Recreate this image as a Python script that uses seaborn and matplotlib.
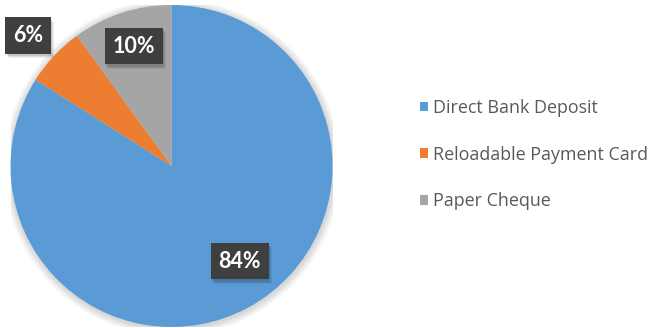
import matplotlib
matplotlib.use("Agg")
import matplotlib.pyplot as plt
import matplotlib.patches as mpatches
import numpy as np
import seaborn as sns

# Payment method shares (percent)
methods = ["Direct Bank Deposit", "Reloadable Payment Card", "Paper Cheque"]
shares = [84, 6, 10]
colors = ["#5B9BD5", "#ED7D31", "#A5A5A5"]

sns.set_theme(style="white")
plt.rcParams["font.family"] = ["Lato", "DejaVu Sans"]

W, H = 652, 328
fig = plt.figure(figsize=(W / 100, H / 100), dpi=100)
fig.patch.set_facecolor("white")

# pie area in pixels: centre (171.5, 166 from top), radius 161
cx, cy, r = 171.5, H - 166, 161
ax = fig.add_axes([(cx - r) / W, (cy - r) / H, 2 * r / W, 2 * r / H])
ax.set_facecolor("none")

# soft shadow around the pie
for k in range(8):
    ax.add_patch(mpatches.Circle((0.004, -0.008), 1.0 + 0.006 * (k + 1),
                                 facecolor="#000000", alpha=0.018,
                                 edgecolor="none", zorder=0))

wedges, _ = ax.pie(shares, colors=colors, startangle=90, counterclock=False,
                   wedgeprops=dict(linewidth=0))
for w in wedges:
    w.set_zorder(2)
ax.set_xlim(-1, 1)
ax.set_ylim(-1, 1)
ax.set_aspect("equal")
ax.axis("off")

# data labels: radius and angular nudge per slice
label_r = [0.726, 1.205, 0.78]
label_da = [6.8, 0.9, -0.6]
labels = []
for w, v, rr, da in zip(wedges, shares, label_r, label_da):
    ang = np.deg2rad((w.theta1 + w.theta2) / 2 + da)
    x, y = rr * np.cos(ang), rr * np.sin(ang)
    t = ax.text(x, y, f"{v}%", ha="center", va="center", fontsize=15.5,
                fontweight="bold", color="white", zorder=4,
                bbox=dict(boxstyle="square,pad=0.36", facecolor="#3F3F3F",
                          edgecolor="none"))
    labels.append(t)

handles = [mpatches.Patch(facecolor=c, edgecolor="none") for c in colors]
fig.legend(handles, methods, loc="center left",
           bbox_to_anchor=(420 / W, 1 - 154.5 / H), frameon=False,
           prop=dict(family=["Open Sans", "DejaVu Sans"], size=12.9),
           labelcolor="#595959",
           handlelength=0.44, handleheight=0.44, handletextpad=0.28,
           labelspacing=1.6, borderpad=0, borderaxespad=0)

# drop shadows behind the label boxes
fig.canvas.draw()
renderer = fig.canvas.get_renderer()
for t in labels:
    bb = t.get_bbox_patch().get_window_extent(renderer)
    for k, a in enumerate([0.10, 0.08, 0.06]):
        fig.add_artist(mpatches.Rectangle((bb.x0 + 1.5 + k, bb.y0 - 2.5 - k),
                                          bb.width, bb.height,
                                          transform=None, facecolor="#000000",
                                          alpha=a, edgecolor="none",
                                          zorder=3))
    t.set_zorder(5)
    t.remove()
    fig.add_artist(t)

fig.savefig("out.png", dpi=100, facecolor="white")
